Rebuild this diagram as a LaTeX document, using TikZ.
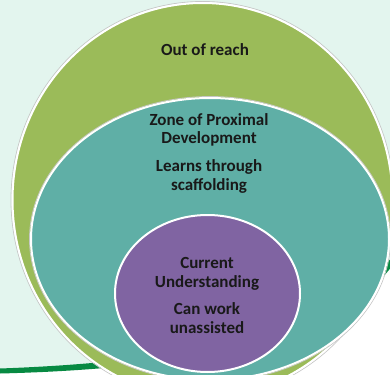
\documentclass[tikz,border=0pt]{standalone}
\usepackage{fontspec}
\setmainfont{Carlito}
\begin{document}
\begin{tikzpicture}[x=1pt,y=-1pt,
  ring/.style={draw=white,line width=2pt},
  halo/.style={draw=black!22,line width=0.8pt},
  label/.style={font=\bfseries\fontsize{17}{18.8}\selectfont,align=center,inner sep=0pt,anchor=base,text=black!90}]
\definecolor{mint}{HTML}{E3F5EE}
\definecolor{swoosh}{HTML}{078A42}
\definecolor{reach}{HTML}{9BBB59}
\definecolor{zpd}{HTML}{5FAFA6}
\definecolor{current}{HTML}{8064A2}
\useasboundingbox (0,0) rectangle (390,374);
% page background: white below the swoosh, mint above it
\fill[white] (0,0) rectangle (390,374);
\fill[mint] (0,0) -- (390,0) -- (390,259)
  .. controls (330,336) and (180,363) .. (0,369) -- cycle;
% tapered green swoosh
\fill[swoosh] (0,368.5) .. controls (180,362) and (330,335) .. (392,257)
  -- (392,266) .. controls (335,343) and (180,369) .. (0,373.5) -- cycle;
% outer zone
\draw[halo] (202.5,200) ellipse [x radius=191.5, y radius=198.5];
\fill[reach] (202.5,200) ellipse [x radius=190, y radius=197];
\draw[ring] (202.5,200) ellipse [x radius=190, y radius=197];
% middle zone
\draw[halo] (210,239) ellipse [x radius=180.5, y radius=142.5];
\fill[zpd] (210,239) ellipse [x radius=179, y radius=141];
\draw[ring] (210,239) ellipse [x radius=179, y radius=141];
% inner zone
\fill[current] (207.5,293.5) ellipse [x radius=92.5, y radius=78.5];
\draw[ring] (207.5,293.5) ellipse [x radius=92.5, y radius=78.5];
% labels (a multi-line node sits on the baseline of its last line)
\node[label] (out) at (205,56) {Out of reach};
\node[label] (zone) at (209,190) {Zone of Proximal\\Development\\[8.5pt]Learns through\\scaffolding};
\node[label] (cur) at (207,333) {Current\\Understanding\\[7.8pt]Can work\\unassisted};
\end{tikzpicture}
\end{document}
